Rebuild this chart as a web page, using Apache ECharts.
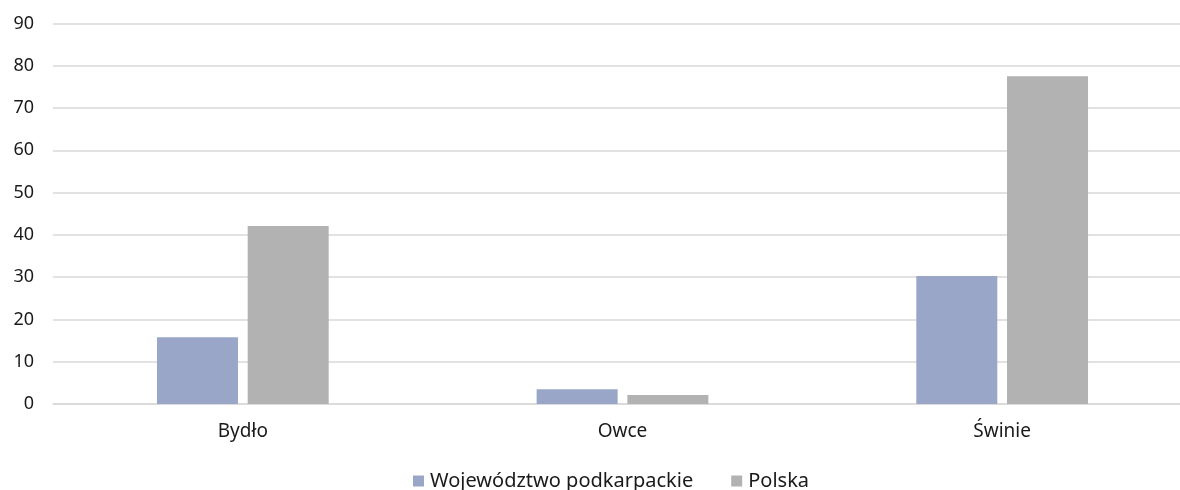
<!DOCTYPE html>
<html>
<head>
<meta charset="utf-8">
<script src="https://cdn.jsdelivr.net/npm/echarts@6/dist/echarts.min.js"></script>
<style>html,body{margin:0;padding:0;background:#fff;overflow:hidden}#c{width:1192px;height:490px}</style>
</head>
<body>
<div id="c"></div>
<script>
const categories = ['Bydło', 'Owce', 'Świnie'];
const seriesNames = ['Województwo podkarpackie', 'Polska'];
const podkarpackie = [15.8, 3.5, 30.3];
const polska = [42.1, 2.1, 77.5];
const yTicks = { min: 0, max: 90, interval: 10 };

const FONT = '"Noto Sans", sans-serif';
const chart = echarts.init(document.getElementById('c'), null, { renderer: 'canvas' });
chart.setOption({
  animation: false,
  textStyle: { fontFamily: FONT },
  grid: { left: 53, top: 23.5, right: 0, height: 380.5, containLabel: false },
  legend: {
    top: 466,
    left: 408,
    itemWidth: 11,
    itemHeight: 11,
    itemGap: 38,
    icon: 'rect',
    textStyle: { fontFamily: FONT, fontSize: 20, color: '#1a1a1a', padding: [0, 0, 0, 1] },
    data: seriesNames
  },
  xAxis: {
    type: 'category',
    data: categories,
    axisLine: { lineStyle: { color: '#d9d9d9', width: 1.5 } },
    axisTick: { show: false },
    axisLabel: { fontFamily: FONT, fontSize: 19, color: '#1a1a1a', margin: 18 }
  },
  yAxis: {
    type: 'value',
    min: yTicks.min, max: yTicks.max, interval: yTicks.interval,
    axisLine: { show: false },
    axisTick: { show: false },
    splitLine: { lineStyle: { color: '#d9d9d9', width: 1.5 } },
    axisLabel: { fontFamily: FONT, fontSize: 18, color: '#1a1a1a', margin: 19 }
  },
  series: [
    { name: seriesNames[0], type: 'bar', data: podkarpackie, barWidth: 81, barGap: '12%',
      itemStyle: { color: '#99a6c8' } },
    { name: seriesNames[1], type: 'bar', data: polska, barWidth: 81,
      itemStyle: { color: '#b2b2b2' } }
  ]
});
</script>
</body>
</html>
